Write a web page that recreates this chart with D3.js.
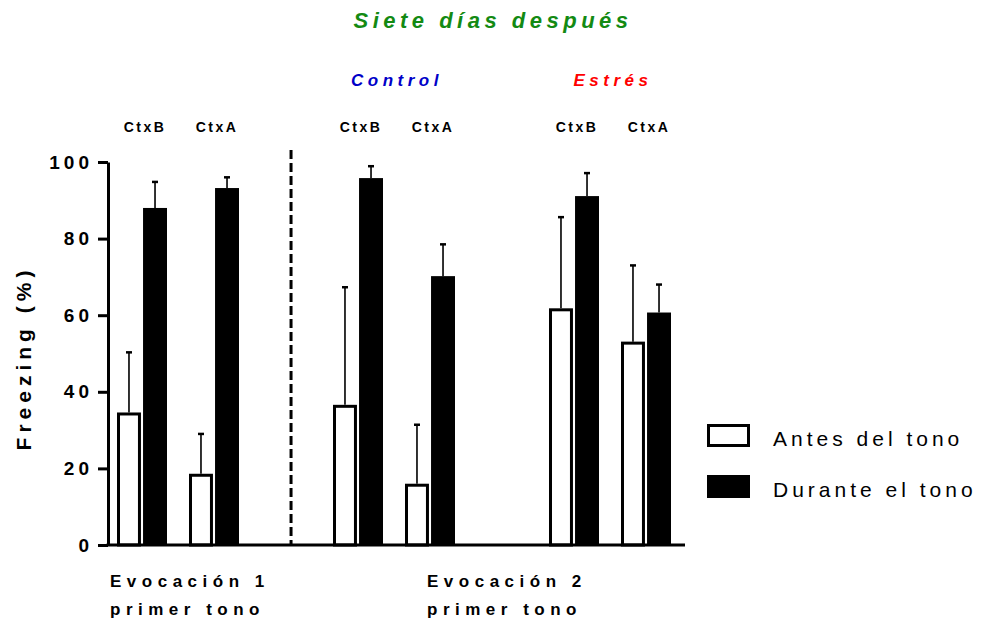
<!DOCTYPE html>
<meta charset="utf-8">
<html>
<head>
<title>freezing</title>
<style>
    body {
        margin: 0;
        background: #fff;
        font-family: "Liberation Sans", Arial, Helvetica, sans-serif;
    }
</style>
<script src="https://d3js.org/d3.v7.min.js"></script>
</head>
<body>
<div id="chart"></div>
<script>

// ##### data #####
// band slots along x (two empty slots keep the groups apart)
var slots = ["e1-B", "e1-A", "gap1", "ctrl-B", "ctrl-A", "gap2", "est-B", "est-A"];
var cats = ["e1-B", "e1-A", "ctrl-B", "ctrl-A", "est-B", "est-A"];
var ctxLabels = ["CtxB", "CtxA", "CtxB", "CtxA", "CtxB", "CtxA"];
var antes = [34.6, 18.6, 36.6, 16.0, 61.8, 53.1];
var antesErr = [15.7, 10.4, 30.7, 15.4, 23.8, 19.9];
var durante = [88.0, 93.2, 95.8, 70.2, 91.1, 60.7];
var duranteErr = [6.8, 2.8, 3.1, 8.3, 6.0, 7.3];
var yTicks = [0, 20, 40, 60, 80, 100];
var series = ["Antes del tono", "Durante el tono"];

// set the dimensions
var width = 984, height = 625;

var svg = d3.select("#chart")
  .append("svg")
    .attr("width", width)
    .attr("height", height);

// set the ranges
var x = d3.scaleBand().domain(slots).range([106, 682]);
var inner = d3.scaleBand().domain(series).range([11, 61]).paddingInner(0.08);
var y = d3.scaleLinear().domain([0, 100]).range([545, 162]);

var rows = cats.map(function(c, i) {
  return {cat: c, ctx: ctxLabels[i],
          vals: [{s: series[0], v: antes[i], e: antesErr[i]},
                 {s: series[1], v: durante[i], e: duranteErr[i]}]};
});

// ##### bars #####
var grp = svg.selectAll(".grp")
  .data(rows)
  .enter().append("g")
    .attr("class", "grp")
    .attr("transform", function(d) { return "translate(" + x(d.cat) + ",0)"; });

var bw = inner.bandwidth();

grp.selectAll("rect")
  .data(function(d) { return d.vals; })
  .enter().append("rect")
    .attr("x", function(d) { return d.s == series[0] ? inner(d.s) + 1.5 : inner(d.s); })
    .attr("width", function(d) { return d.s == series[0] ? bw - 3 : bw; })
    .attr("y", function(d) { return d.s == series[0] ? y(d.v) + 1.5 : y(d.v); })
    .attr("height", function(d) { return y(0) - y(d.v) - (d.s == series[0] ? 1.5 : 0); })
    .attr("fill", function(d) { return d.s == series[0] ? "#fff" : "#000"; })
    .attr("stroke", "#000")
    .attr("stroke-width", function(d) { return d.s == series[0] ? 3 : 0; });

// error bars (upper only)
grp.selectAll(".err")
  .data(function(d) { return d.vals; })
  .enter().append("line")
    .attr("class", "err")
    .attr("x1", function(d) { return inner(d.s) + bw / 2; })
    .attr("x2", function(d) { return inner(d.s) + bw / 2; })
    .attr("y1", function(d) { return y(d.v); })
    .attr("y2", function(d) { return y(d.v + d.e); })
    .attr("stroke", "#000")
    .attr("stroke-width", 1.6);

grp.selectAll(".cap")
  .data(function(d) { return d.vals; })
  .enter().append("line")
    .attr("class", "cap")
    .attr("x1", function(d) { return inner(d.s) + bw / 2 - 3; })
    .attr("x2", function(d) { return inner(d.s) + bw / 2 + 3; })
    .attr("y1", function(d) { return y(d.v + d.e); })
    .attr("y2", function(d) { return y(d.v + d.e); })
    .attr("stroke", "#000")
    .attr("stroke-width", 2.5);

// context labels above bars
grp.append("text")
    .attr("x", x.bandwidth() / 2 + 3)
    .attr("y", 132)
    .attr("text-anchor", "middle")
    .style("font-size", "14px")
    .style("font-weight", "bold")
    .style("letter-spacing", "2.5px")
    .text(function(d) { return d.ctx; });

// ##### axes #####
var yAxis = svg.append("g")
    .attr("transform", "translate(108,0)")
    .call(d3.axisLeft(y).tickValues(yTicks).tickSize(10).tickSizeOuter(0).tickPadding(5));

yAxis.select(".domain").attr("stroke-width", 3);
yAxis.selectAll(".tick line").attr("stroke-width", 3);
yAxis.selectAll(".tick text")
    .attr("fill", "#000")
    .style("font-family", "'Liberation Sans', Arial, sans-serif")
    .style("font-size", "19px")
    .style("font-weight", "bold")
    .style("letter-spacing", "4px");

// x baseline
svg.append("line")
    .attr("x1", 106.5).attr("x2", x.range()[1] + 3)
    .attr("y1", y(0)).attr("y2", y(0))
    .attr("stroke", "#000")
    .attr("stroke-width", 3);

// dashed separator
svg.append("line")
    .attr("x1", x("gap1") + x.bandwidth() * 0.57)
    .attr("x2", x("gap1") + x.bandwidth() * 0.57)
    .attr("y1", 150).attr("y2", y(0))
    .attr("stroke", "#000")
    .attr("stroke-width", 3)
    .attr("stroke-dasharray", "9,4");

// y axis title
svg.append("text")
    .attr("transform", "translate(31,358) rotate(-90)")
    .attr("text-anchor", "middle")
    .style("font-size", "21px")
    .style("font-weight", "bold")
    .style("letter-spacing", "5px")
    .text("Freezing (%)");

// ##### titles #####
svg.append("text")
    .attr("x", 493).attr("y", 28)
    .attr("text-anchor", "middle")
    .attr("fill", "#138a13")
    .style("font-size", "22px")
    .style("font-weight", "bold")
    .style("font-style", "italic")
    .style("letter-spacing", "4.5px")
    .text("Siete días después");

svg.append("text")
    .attr("x", (x("ctrl-B") + x("ctrl-A") + x.bandwidth()) / 2 + 3)
    .attr("y", 86)
    .attr("text-anchor", "middle")
    .attr("fill", "#0000c8")
    .style("font-size", "17px")
    .style("font-weight", "bold")
    .style("font-style", "italic")
    .style("letter-spacing", "4.5px")
    .text("Control");

svg.append("text")
    .attr("x", (x("est-B") + x("est-A") + x.bandwidth()) / 2 + 3)
    .attr("y", 86)
    .attr("text-anchor", "middle")
    .attr("fill", "#f00")
    .style("font-size", "17px")
    .style("font-weight", "bold")
    .style("font-style", "italic")
    .style("letter-spacing", "4.5px")
    .text("Estrés");

// bottom labels
var bottom = [{x: 110, t: ["Evocación 1", "primer tono"]},
              {x: 427, t: ["Evocación 2", "primer tono"]}];
bottom.forEach(function(b) {
  b.t.forEach(function(t, i) {
    svg.append("text")
        .attr("x", b.x).attr("y", 587 + i * 28)
        .style("font-size", "17px")
        .style("font-weight", "bold")
        .style("letter-spacing", "5.5px")
        .text(t);
  });
});

// ##### legend #####
var leg = svg.selectAll(".leg")
  .data(series)
  .enter().append("g")
    .attr("class", "leg")
    .attr("transform", function(d, i) { return "translate(707," + (424 + i * 51) + ")"; });

leg.append("rect")
    .attr("x", function(d, i) { return i == 0 ? 1.5 : 0; })
    .attr("y", function(d, i) { return i == 0 ? 1.5 : 0; })
    .attr("width", function(d, i) { return i == 0 ? 40 : 43; })
    .attr("height", function(d, i) { return i == 0 ? 20 : 23; })
    .attr("fill", function(d, i) { return i == 0 ? "#fff" : "#000"; })
    .attr("stroke", "#000")
    .attr("stroke-width", function(d, i) { return i == 0 ? 3 : 0; });

leg.append("text")
    .attr("x", 66).attr("y", 22)
    .style("font-size", "21px")
    .style("letter-spacing", "4px")
    .text(function(d) { return d; });

</script>
</body>
</html>
